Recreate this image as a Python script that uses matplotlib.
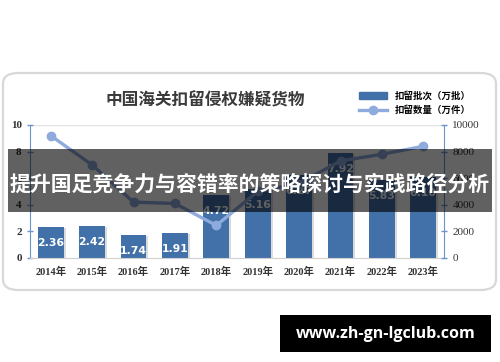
import matplotlib
matplotlib.use("Agg")
import matplotlib.pyplot as plt
from matplotlib.patches import FancyBboxPatch, Rectangle
from matplotlib.lines import Line2D

plt.rcParams['font.family'] = ['Noto Sans CJK SC', 'DejaVu Sans']

years = ['2014年', '2015年', '2016年', '2017年', '2018年',
         '2019年', '2020年', '2021年', '2022年', '2023年']
batches = [2.36, 2.42, 1.74, 1.91, 4.72, 5.16, 6.27, 7.92, 5.83, 6.10]
pieces = [9200, 7000, 4200, 4100, 2450, 5000, 5600, 7300, 7800, 8400]

bar_color = '#4270A8'
line_color = '#8FAADC'
axis_color = '#6A93CC'
num_font = ['Liberation Serif', 'Noto Sans CJK SC']

fig = plt.figure(figsize=(5, 3.62), dpi=100)
fig.patch.set_facecolor('white')

# card background
card = FancyBboxPatch((3 / 500, 1 - 290 / 362), 493 / 500, 217 / 362,
                      boxstyle='round,pad=0,rounding_size=0.03',
                      transform=fig.transFigure, facecolor='white',
                      edgecolor='#D8D8D8', linewidth=1.6, zorder=-5)
fig.patches.append(card)

ax = fig.add_axes([0.06, 0.2873, 0.828, 0.3674])
ax.set_facecolor('none')
ax.set_zorder(1)
x = list(range(len(years)))

# bar shadow then bars
ax.bar([i + 0.05 for i in x], [b - 0.08 for b in batches], width=0.62,
       color='#B8B8B8', alpha=0.5, zorder=1)
ax.bar(x, batches, width=0.62, color=bar_color, zorder=2)
for i, b in enumerate(batches):
    ax.annotate(f'{b:.2f}', (i, b), xytext=(0, -11.5), textcoords='offset points',
                ha='center', va='center', color='white', fontsize=7.8,
                fontweight='bold', family=['DejaVu Sans'], zorder=3)

ax.set_xlim(-0.5, 9.5)
ax.set_ylim(0, 10)
ax.set_yticks([0, 2, 4, 6, 8, 10])
ax.axhline(10, color='#E3E3E3', linewidth=1, zorder=0)
ax.set_xticks(x)
ax.set_xticklabels(years, family=num_font, fontsize=7.5, color='#333333',
                   fontweight='bold')
ax.tick_params(axis='x', length=0, pad=6)
ax.tick_params(axis='y', colors=axis_color, length=5, width=1, direction='inout',
               labelcolor='#333333', labelsize=8)
for lab in ax.get_yticklabels():
    lab.set_family(num_font)
    lab.set_fontweight('bold')
for s in ['top', 'right']:
    ax.spines[s].set_visible(False)
ax.spines['left'].set_color(axis_color)
ax.spines['bottom'].set_color('#D0D0D0')

ax2 = ax.twinx()
ax2.set_zorder(2)
ax2.set_facecolor('none')
ax2.plot(x, pieces, color=line_color, linewidth=2.4, marker='o',
         markersize=6, zorder=5)
ax2.set_ylim(0, 10000)
ax2.set_yticks([0, 2000, 4000, 6000, 8000, 10000])
ax2.tick_params(axis='y', colors=axis_color, length=5, width=1, direction='inout',
                labelcolor='#333333', labelsize=8)
for lab in ax2.get_yticklabels():
    lab.set_family(num_font)
for s in ['top', 'left', 'bottom']:
    ax2.spines[s].set_visible(False)
ax2.spines['right'].set_color(axis_color)

fig.text(0.41, 1 - 100 / 362, '中国海关扣留侵权嫌疑货物', ha='center', va='center',
         fontsize=12, fontweight='bold', color='#3A3A3A')

handles = [Rectangle((0, 0), 1, 1, color=bar_color),
           Line2D([], [], color=line_color, linewidth=2.4, marker='o', markersize=6)]
fig.legend(handles, ['扣留批次（万批）', '扣留数量（万件）'], loc='center',
           bbox_to_anchor=(0.83, 1 - 103 / 362), frameon=False,
           handlelength=3, labelspacing=0.5, prop={'weight': 'bold', 'size': 6.8})

# overlay banner
banner = Rectangle((8 / 500, 1 - 212 / 362), 484 / 500, 63 / 362,
                   transform=fig.transFigure, facecolor='black', alpha=0.62)
banner.set_zorder(10)
fig.patches.append(banner)
fig.text(0.5, 1 - 184 / 362, '提升国足竞争力与容错率的策略探讨与实践路径分析',
         ha='center', va='center', fontsize=15, fontweight='bold',
         color='white', zorder=11)

# watermark
mark = Rectangle((280 / 500, 1 - 352 / 362), 211 / 500, 37 / 362,
                 transform=fig.transFigure, facecolor='black')
mark.set_zorder(10)
fig.patches.append(mark)
fig.text(385.5 / 500, 1 - 333.5 / 362, 'www.zh-gn-lgclub.com', ha='center',
         va='center', fontsize=11.5, fontweight='bold', color='white',
         family=['Open Sans', 'DejaVu Sans'], zorder=11)

fig.savefig('out.png', dpi=100)
